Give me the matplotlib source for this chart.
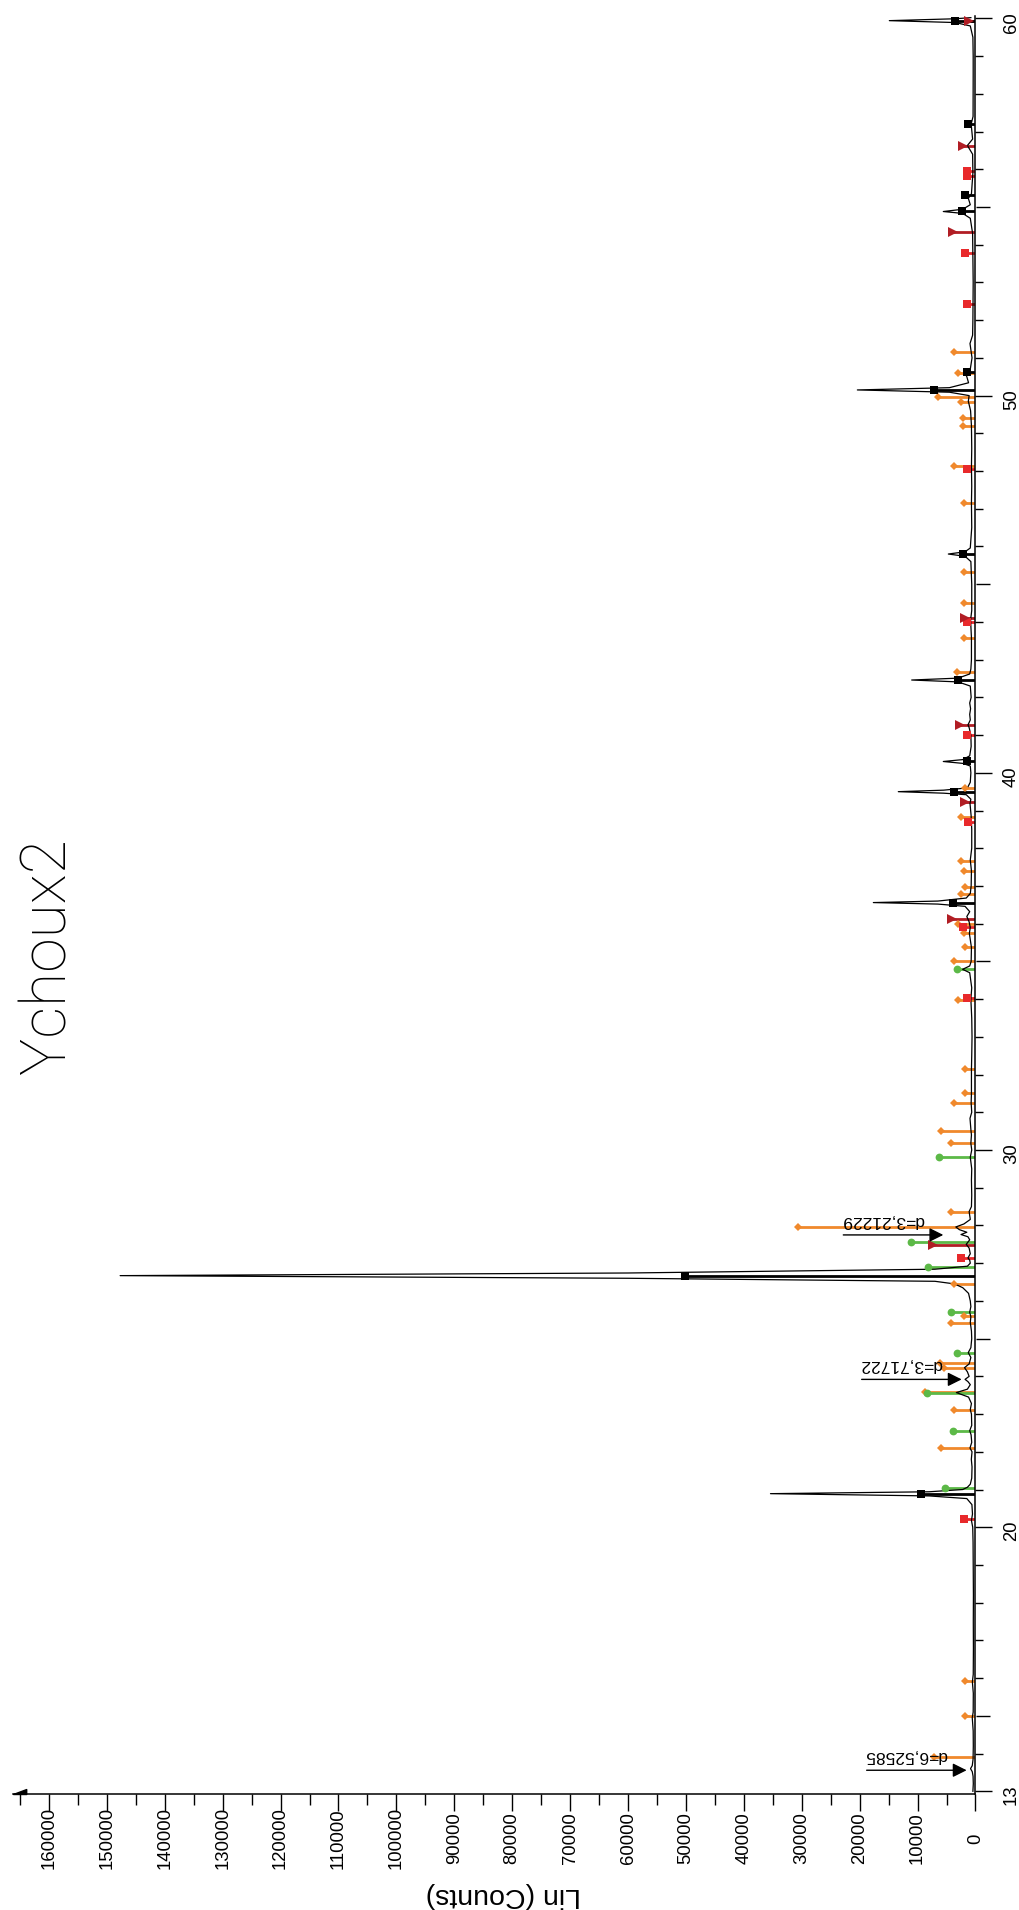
import numpy as np
import matplotlib
matplotlib.use("Agg")
import matplotlib.pyplot as plt

# measured scan: 2theta (deg) / Lin (Counts)
scan_2theta = [
    13.00, 13.20, 13.40, 13.52, 13.60, 13.68, 13.85, 14.20, 14.60, 14.95,
    15.10, 15.60, 15.90, 16.10, 16.80, 17.50, 18.20, 19.00, 19.60, 20.00,
    20.18, 20.35, 20.60, 20.76, 20.83, 20.89, 20.94, 21.00, 21.06, 21.14,
    21.30, 21.60, 21.80, 22.00, 22.10, 22.25, 22.45, 22.56, 22.70, 23.00,
    23.12, 23.28, 23.45, 23.57, 23.66, 23.78, 23.86, 23.92, 24.00, 24.12,
    24.23, 24.33, 24.50, 24.63, 24.76, 25.00, 25.20, 25.43, 25.58, 25.70,
    25.85, 26.00, 26.20, 26.35, 26.45, 26.52, 26.60, 26.67, 26.74, 26.84,
    26.92, 27.00, 27.08, 27.14, 27.25, 27.40, 27.50, 27.62, 27.70, 27.76,
    27.82, 27.89, 27.96, 28.04, 28.16, 28.37, 28.50, 28.80, 29.20, 29.50,
    29.81, 30.00, 30.18, 30.40, 30.55, 30.84, 31.00, 31.25, 31.50, 32.14,
    32.50, 33.00, 33.50, 34.00, 34.30, 34.70, 34.79, 34.88, 35.00, 35.37,
    35.74, 35.90, 36.05, 36.19, 36.32, 36.46, 36.52, 36.56, 36.60, 36.68,
    36.80, 37.00, 37.40, 37.69, 38.00, 38.50, 38.85, 39.19, 39.30, 39.42,
    39.46, 39.50, 39.54, 39.60, 39.75, 40.00, 40.18, 40.25, 40.30, 40.35,
    40.45, 40.70, 41.00, 41.20, 41.27, 41.40, 41.55, 41.70, 41.85, 42.00,
    42.30, 42.41, 42.46, 42.51, 42.62, 42.75, 43.00, 43.58, 44.05, 44.30,
    45.00, 45.60, 45.74, 45.80, 45.86, 45.96, 46.50, 47.14, 47.60, 48.10,
    48.60, 49.20, 49.60, 49.85, 50.00, 50.09, 50.15, 50.21, 50.34, 50.50,
    50.60, 50.70, 51.00, 51.38, 51.60, 52.00, 52.50, 53.00, 53.80, 54.30,
    54.70, 54.83, 54.88, 54.94, 55.06, 55.23, 55.35, 55.90, 56.40, 56.63,
    56.80, 57.20, 57.40, 58.00, 58.50, 59.00, 59.50, 59.80, 59.89, 59.94,
    59.99, 60.02,
]
scan_counts = [
    450, 380, 420, 560, 860, 560, 420, 380, 400, 560,
    400, 380, 540, 390, 360, 380, 360, 400, 420, 480,
    700, 520, 620, 1500, 8000, 35400, 8000, 2200, 1400, 900,
    650, 600, 720, 600, 950, 650, 760, 1000, 650, 700,
    900, 700, 1200, 3300, 1400, 900, 1300, 1800, 1100, 1400,
    1900, 1100, 800, 1250, 800, 650, 700, 900, 800, 1000,
    800, 900, 1200, 2200, 3600, 7000, 60000, 147700, 60000, 7000,
    1400, 900, 1000, 1300, 900, 1100, 1600, 1000, 1300, 2500,
    1500, 2800, 3400, 2000, 900, 1100, 700, 650, 700, 650,
    900, 650, 800, 700, 800, 950, 650, 750, 700, 700,
    650, 600, 650, 800, 650, 1000, 2220, 1000, 750, 700,
    1060, 900, 1100, 1500, 1000, 1800, 6500, 17640, 6500, 1600,
    900, 750, 700, 900, 650, 650, 750, 950, 800, 1600,
    5500, 13330, 5500, 1400, 900, 800, 900, 2200, 5560, 2200,
    1000, 750, 800, 1100, 1300, 900, 1000, 850, 1000, 750,
    900, 3000, 11020, 3000, 1000, 800, 700, 700, 850, 650,
    650, 800, 1800, 4690, 1800, 900, 650, 700, 650, 700,
    650, 700, 850, 1240, 1100, 4500, 20400, 4500, 1200, 1500,
    1800, 900, 600, 950, 500, 450, 420, 400, 450, 500,
    900, 2200, 5560, 2200, 900, 1240, 700, 450, 500, 1400,
    500, 750, 420, 400, 400, 400, 450, 900, 3500, 14880,
    3500, 800,
]

# reference patterns (stick positions and heights)
quartz_pos = [20.89, 26.67, 36.56, 39.50, 40.30, 42.46, 45.80, 50.15, 50.63,
              54.89, 55.32, 57.20, 59.94]
quartz_int = [9470, 50200, 3940, 3660, 1530, 3080, 2100, 7170, 1410,
              2270, 1810, 1240, 3540]

orange_pos = [13.92, 14.99, 15.92, 22.09, 23.11, 23.59, 24.22, 24.36, 25.42,
              25.61, 26.45, 27.95, 28.37, 30.18, 30.51, 31.24, 31.50, 32.14,
              33.99, 35.02, 35.37, 35.76, 35.99, 36.80, 36.98, 37.41, 37.67,
              38.84, 39.59, 42.68, 43.58, 44.51, 45.33, 47.14, 48.13, 49.19,
              49.40, 49.82, 49.97, 50.59, 51.16]
orange_int = [7170, 1810, 1810, 5960, 3660, 8720, 5500, 6100, 4230,
              1930, 3660, 30600, 4230, 4230, 5960, 3660, 1810, 1810,
              2960, 3660, 1810, 1930, 3080, 2500, 1810, 1930, 2500,
              2500, 1810, 3250, 1930, 1930, 1930, 1930, 3660, 2100,
              2100, 2500, 6540, 3080, 3650]

green_pos = [21.05, 22.55, 23.57, 24.63, 25.70, 26.90, 27.56, 29.81, 34.79]
green_int = [5270, 3830, 8320, 3250, 4230, 8150, 11140, 6250, 3250]

red_pos = [20.21, 27.14, 34.03, 35.92, 38.70, 40.99, 43.99, 48.05, 52.42,
           53.79, 55.83, 55.95]
red_int = [2000, 2560, 1410, 2150, 1350, 1410, 1530, 1410, 1530,
           1870, 1530, 1530]

darkred_pos = [27.48, 36.12, 39.23, 41.27, 44.10, 54.33, 56.63, 59.92]
darkred_int = [7280, 4120, 1810, 2680, 1810, 3940, 2100, 1200]

# d-spacing labels (Angstrom) and the counts where their arrows point
d_values = [6.52585, 3.71722, 3.21229]
d_tip_counts = [1530, 2390, 5560]
wavelength = 1.5406  # Cu K-alpha1

label_font = ["Liberation Sans Narrow", "Liberation Sans", "DejaVu Sans"]

fig = plt.figure(figsize=(10.2, 19.1), dpi=100)
ax = fig.add_axes([13 / 1020, (1910 - 1794.3) / 1910,
                   (975.5 - 13) / 1020, (1794.3 - 16.5) / 1910])

ax.set_xlim(166200, 0)
ax.set_ylim(12.92, 60.05)

phases = [
    (orange_pos, orange_int, "#f0892c", "D", 4.4),
    (green_pos, green_int, "#5cb947", "o", 5.6),
    (red_pos, red_int, "#e8292b", "s", 5.6),
    (darkred_pos, darkred_int, "#b11d24", ">", 6.5),
    (quartz_pos, quartz_int, "#000000", "s", 5.6),
]
for pos, inten, col, mk, ms in phases:
    ax.hlines(pos, 0, inten, colors=col, lw=2.0, zorder=2)

ax.plot(scan_counts, scan_2theta, color="black", lw=0.9, zorder=3)

for pos, inten, col, mk, ms in phases:
    ax.plot(inten, pos, ls="none", marker=mk, ms=ms, color=col,
            markeredgewidth=0, zorder=4)

# d-spacing arrows and labels
for d, tip in zip(d_values, d_tip_counts):
    tt = 2 * np.degrees(np.arcsin(wavelength / (2 * d)))
    ax.annotate("", xy=(tip, tt), xytext=(-72, 0), textcoords="offset points",
                arrowprops=dict(arrowstyle="-|>,head_length=0.4,head_width=0.2",
                                mutation_scale=21, lw=1.0, color="black",
                                shrinkA=0, shrinkB=0), zorder=5)
    ax.annotate("d=" + f"{d:.5f}".replace(".", ","), xy=(tip, tt),
                xytext=(-13.7, 13.7), textcoords="offset points",
                rotation=180, rotation_mode="anchor", ha="left",
                va="baseline", fontsize=12.5, family="Liberation Sans",
                zorder=5)

# axes styling
for side in ["top", "left"]:
    ax.spines[side].set_visible(False)
for side in ["bottom", "right"]:
    ax.spines[side].set_linewidth(1.1)

ax.set_xticks(np.arange(0, 160001, 10000))
ax.set_xticks(np.arange(5000, 166000, 10000), minor=True)
ax.set_xticklabels([str(v) for v in range(0, 160001, 10000)])
ax.tick_params(axis="x", which="major", direction="out", length=12.2,
               width=1.0, pad=19.5, labelrotation=90, labelsize=13.3)
ax.tick_params(axis="x", which="minor", direction="out", length=8, width=1.0)
for lab in ax.get_xticklabels():
    lab.set_va("center")
    lab.set_family(label_font)

ax.yaxis.tick_right()
ax.set_yticks([13, 20, 30, 40, 50, 60])
ax.set_yticks([v for v in range(14, 60) if v % 5 != 0], minor=True)
ax.tick_params(axis="y", which="major", direction="out", length=12.2,
               width=1.0, pad=13.8, labelrotation=90, labelsize=13.3)
ax.tick_params(axis="y", which="minor", direction="out", length=5.8, width=1.0)
for lab in ax.get_yticklabels():
    lab.set_ha("center")
    lab.set_family(label_font)

# medium ticks every 5 degrees
sec = ax.secondary_yaxis("right")
sec.set_yticks([15, 25, 35, 45, 55])
sec.tick_params(direction="out", length=10.4, width=1.0, labelright=False)
sec.spines["right"].set_visible(False)

# half arrow head at the end of the counts axis
ax.plot([166200], [12.92], ls="none", marker=[(0, 0), (2, 0), (2, 0.75), (0, 0)],
        ms=19, color="black", clip_on=False, zorder=6)

ax.set_xlabel("Lin (Counts)", rotation=180, fontsize=20.5, family=label_font)
ax.xaxis.label.set_va("center")
ax.xaxis.set_label_coords((503 - 13) / 962.5, (1794.3 - 1895) / 1777.8)

fig.text(48 / 1020, 1 - 956 / 1910, "Ychoux2", rotation=90, ha="center",
         va="center", fontsize=45, fontweight="light",
         family=["Roboto", "Liberation Sans"])

fig.savefig("out.png", dpi=100, facecolor="white")
